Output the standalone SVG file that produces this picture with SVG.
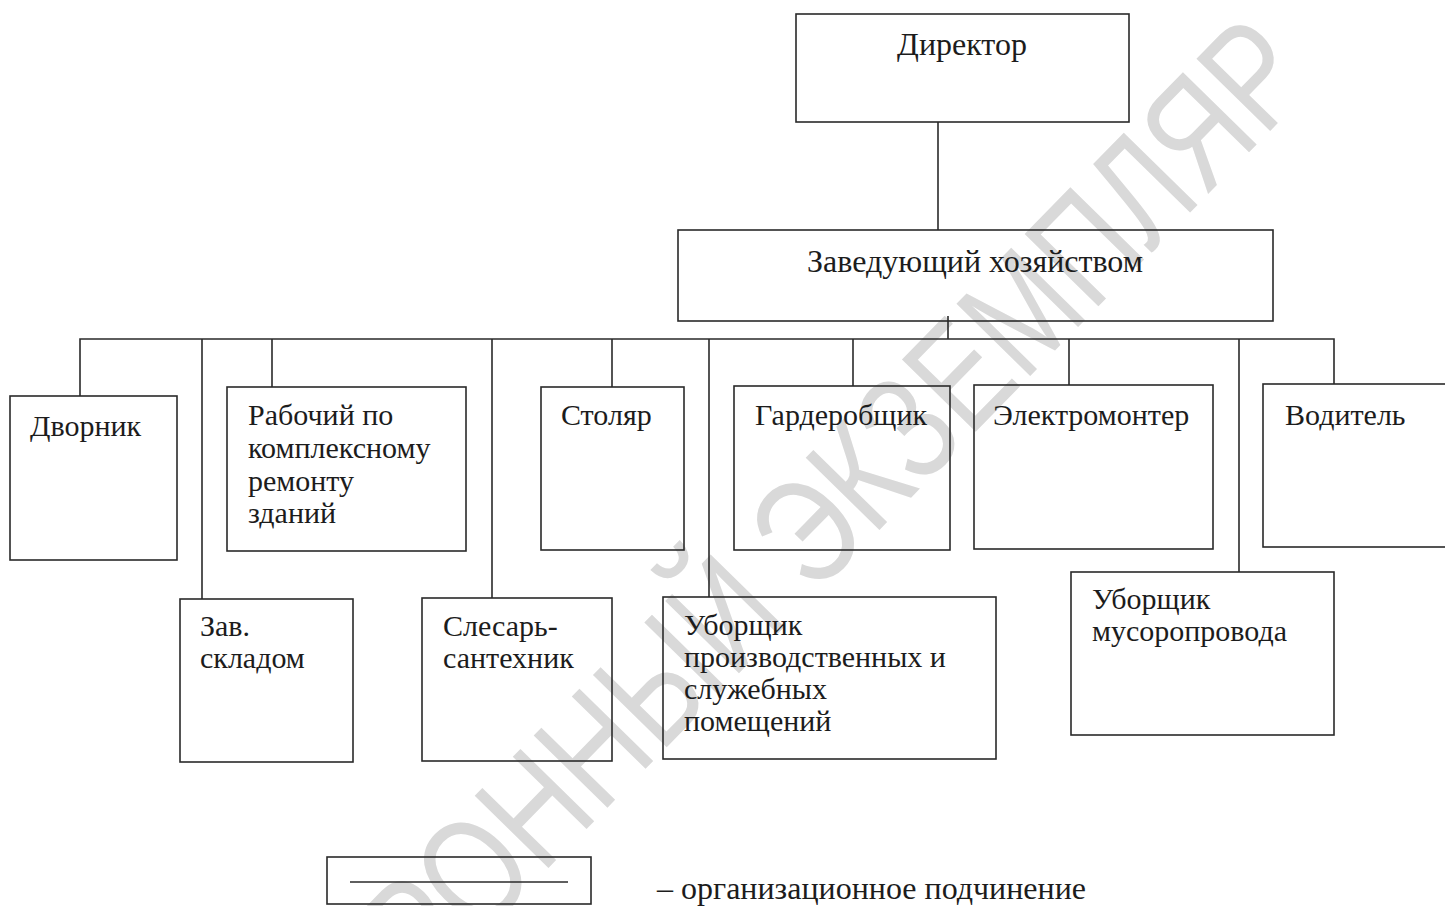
<svg xmlns="http://www.w3.org/2000/svg" width="1445" height="906" viewBox="0 0 1445 906">
<style>
.box{fill:none;stroke:#2a2a2a;stroke-width:1.6}
.ln{fill:none;stroke:#2a2a2a;stroke-width:1.6}
.t{font-family:"Liberation Serif","Times New Roman",serif;font-size:30px;fill:#1c1c1c}
.big{font-size:32px}
.wm{font-family:"Liberation Sans",Arial,sans-serif;font-size:150px;fill:#d9d9d9}
</style>
<rect width="1445" height="906" fill="#fff"/>
<text class="wm" x="0" y="0" text-anchor="end" transform="translate(1318 82) rotate(-45.6) scale(0.78 1)">ЭЛЕКТРОННЫЙ ЭКЗЕМПЛЯР</text>
<g id="connectors">
<line class="ln" x1="938" y1="122" x2="938" y2="230"/>
<line class="ln" x1="948" y1="316" x2="948" y2="339"/>
<polyline class="ln" points="80,396 80,339 1334,339 1334,384"/>
<line class="ln" x1="202" y1="339" x2="202" y2="599"/>
<line class="ln" x1="272" y1="339" x2="272" y2="387"/>
<line class="ln" x1="492" y1="339" x2="492" y2="598"/>
<line class="ln" x1="612" y1="339" x2="612" y2="387"/>
<line class="ln" x1="709" y1="339" x2="709" y2="597"/>
<line class="ln" x1="853" y1="339" x2="853" y2="386"/>
<line class="ln" x1="1069" y1="339" x2="1069" y2="385"/>
<line class="ln" x1="1239" y1="339" x2="1239" y2="572"/>
</g>
<g id="director"><rect class="box" x="796" y="14" width="333" height="108"/><text class="t big" x="962" y="55" text-anchor="middle">Директор</text></g>
<g id="zavhoz"><rect class="box" x="678" y="230" width="595" height="91"/><text class="t big" x="975" y="272" text-anchor="middle">Заведующий хозяйством</text></g>
<g id="dvornik"><rect class="box" x="10" y="396" width="167" height="164"/><text class="t" x="30" y="436">Дворник</text></g>
<g id="rabochiy"><rect class="box" x="227" y="387" width="239" height="164"/><text class="t" x="248" y="425">Рабочий по</text><text class="t" x="248" y="458">комплексному</text><text class="t" x="248" y="491">ремонту</text><text class="t" x="248" y="523">зданий</text></g>
<g id="stolyar"><rect class="box" x="541" y="387" width="143" height="163"/><text class="t" x="561" y="425">Столяр</text></g>
<g id="garderob"><rect class="box" x="734" y="386" width="216" height="164"/><text class="t" x="755" y="425">Гардеробщик</text></g>
<g id="electro"><rect class="box" x="974" y="385" width="239" height="164"/><text class="t" x="993" y="425">Электромонтер</text></g>
<g id="voditel"><rect class="box" x="1263" y="384" width="190" height="163"/><text class="t" x="1285" y="425">Водитель</text></g>
<g id="zavsklad"><rect class="box" x="180" y="599" width="173" height="163"/><text class="t" x="200" y="636">Зав.</text><text class="t" x="200" y="668">складом</text></g>
<g id="slesar"><rect class="box" x="422" y="598" width="190" height="163"/><text class="t" x="443" y="636">Слесарь-</text><text class="t" x="443" y="668">сантехник</text></g>
<g id="uborsch1"><rect class="box" x="663" y="597" width="333" height="162"/><text class="t" x="684" y="635">Уборщик</text><text class="t" x="684" y="667">производственных и</text><text class="t" x="684" y="699">служебных</text><text class="t" x="684" y="731">помещений</text></g>
<g id="uborsch2"><rect class="box" x="1071" y="572" width="263" height="163"/><text class="t" x="1092" y="609">Уборщик</text><text class="t" x="1092" y="641">мусоропровода</text></g>
<g id="legend"><rect class="box" x="327" y="857" width="264" height="47"/><line class="ln" x1="350" y1="882" x2="568" y2="882"/><text class="t big" x="657" y="899">– организационное подчинение</text></g>
</svg>
